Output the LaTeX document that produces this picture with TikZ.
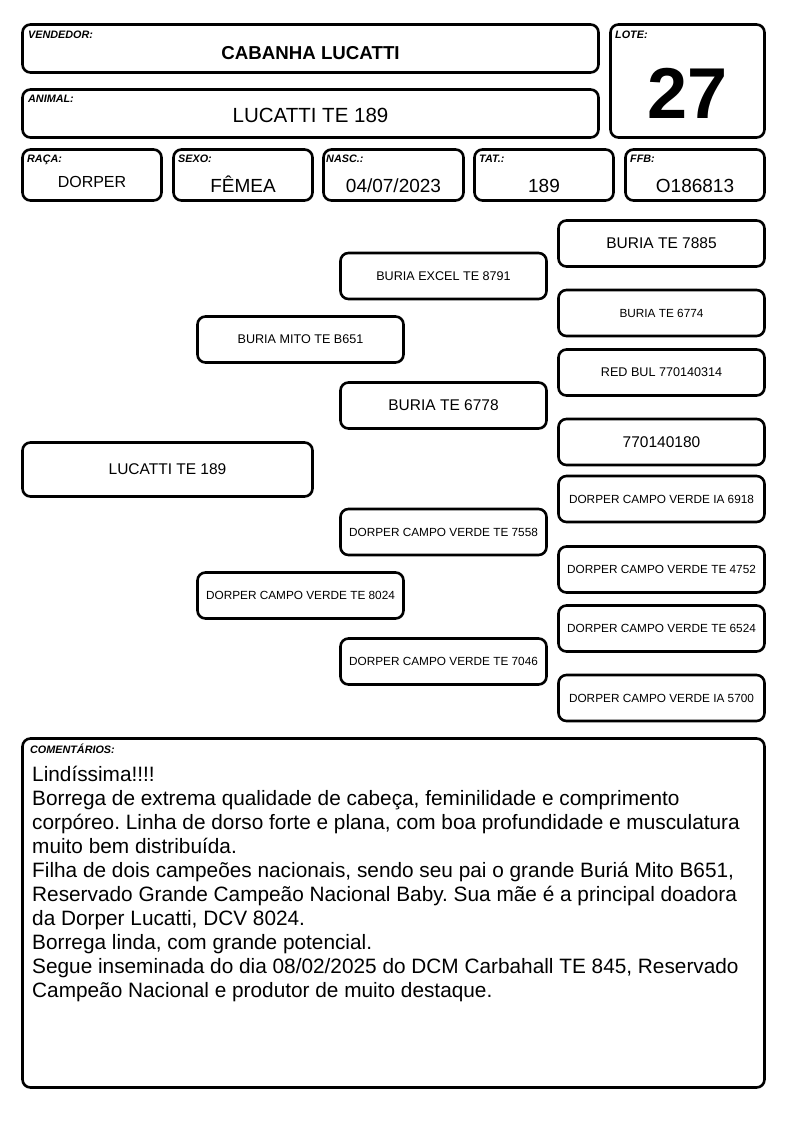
\documentclass[tikz,border=0pt]{standalone}
\usepackage{fontspec}
\setmainfont{Liberation Sans}
\frenchspacing
\begin{document}
\begin{tikzpicture}[x=1pt,y=-1pt,
  frame/.style={draw=black, line width=2.6pt, rounded corners=8pt, inner sep=0pt, fill=white},
  pbox/.style={frame, minimum width=206pt, minimum height=46pt, align=center},
  lbl/.style={anchor=base west, inner sep=0pt, font=\fontsize{10.8}{12}\selectfont\bfseries\itshape},
  val/.style={anchor=base, inner sep=0pt, font=\fontsize{19}{22}\selectfont},
  big/.style={font=\fontsize{15.5}{18}\selectfont},
  med/.style={font=\fontsize{12.6}{15}\selectfont},
  sml/.style={font=\fontsize{11.8}{14}\selectfont}
]
\useasboundingbox[fill=white] (0,0) rectangle (794,1123);

% header
\node[frame, minimum width=576pt, minimum height=48pt] (vend) at (310.5,48.5) {};
\node[frame, minimum width=576pt, minimum height=48pt] (anim) at (310.5,113.5) {};
\node[frame, minimum width=154pt, minimum height=113pt] (lote) at (687.5,81) {};
\node[frame, minimum width=139pt, minimum height=51pt] (raca) at (92,175) {};
\node[frame, minimum width=139pt, minimum height=51pt] (sexo) at (243,175) {};
\node[frame, minimum width=140pt, minimum height=51pt] (nasc) at (393.5,175) {};
\node[frame, minimum width=139pt, minimum height=51pt] (tat) at (544,175) {};
\node[frame, minimum width=139pt, minimum height=51pt] (ffb) at (695,175) {};

\node[lbl] (lvend) at (28,39) {VENDEDOR:};
\node[lbl] (lanim) at (28,103) {ANIMAL:};
\node[lbl] (llote) at (615,39) {LOTE:};
\node[lbl] (lraca) at (27,163) {RAÇA:};
\node[lbl] (lsexo) at (178,163) {SEXO:};
\node[lbl] (lnasc) at (326,163) {NASC.:};
\node[lbl] (ltat) at (479,163) {TAT.:};
\node[lbl] (lffb) at (630,163) {FFB:};

\node[val, font=\fontsize{18.7}{22}\selectfont\bfseries] (tvend) at (310.5,60) {CABANHA LUCATTI};
\node[val, font=\fontsize{20.5}{24}\selectfont] (tanim) at (310.5,123) {LUCATTI TE 189};
\node[val, font=\fontsize{72}{80}\selectfont\bfseries] (tlote) at (687.5,119) {27};
\node[val, font=\fontsize{16}{19}\selectfont] (traca) at (92,188) {DORPER};
\node[val] (tsexo) at (243,193) {FÊMEA};
\node[val] (tnasc) at (393.5,193) {04/07/2023};
\node[val] (ttat) at (544,193) {189};
\node[val] (tffb) at (695,193) {O186813};

% pedigree
\node[frame, minimum width=290pt, minimum height=54pt, big] (p0) at (167.5,469.5) {LUCATTI TE 189};
\node[pbox, med] (p1) at (300.5,339.5) {BURIA MITO TE B651};
\node[pbox, sml] (p2) at (300.5,595.5) {DORPER CAMPO VERDE TE 8024};
\node[pbox, med] (p11) at (443.5,276) {BURIA EXCEL TE 8791};
\node[pbox, big] (p12) at (443.5,405.5) {BURIA TE 6778};
\node[pbox, sml] (p21) at (443.5,532) {DORPER CAMPO VERDE TE 7558};
\node[pbox, sml] (p22) at (443.5,661.5) {DORPER CAMPO VERDE TE 7046};
\node[pbox, big] (p111) at (661.5,243.5) {BURIA TE 7885};
\node[pbox, sml] (p112) at (661.5,313) {BURIA TE 6774};
\node[pbox, med] (p121) at (661.5,372.5) {RED BUL 770140314};
\node[pbox, big] (p122) at (661.5,442) {770140180};
\node[pbox, sml] (p211) at (661.5,499) {DORPER CAMPO VERDE IA 6918};
\node[pbox, sml] (p212) at (661.5,569.5) {DORPER CAMPO VERDE TE 4752};
\node[pbox, sml] (p221) at (661.5,628.5) {DORPER CAMPO VERDE TE 6524};
\node[pbox, sml] (p222) at (661.5,698) {DORPER CAMPO VERDE IA 5700};

% comments
\node[frame, minimum width=742pt, minimum height=349pt] (com) at (393.5,913) {};
\node[lbl] (lcom) at (30,753) {COMENTÁRIOS:};
\node[anchor=base west, inner sep=0pt, align=left, font=\fontsize{20.8}{23.9}\selectfont] (tcom) at (32,997) {Lindíssima!!!!\\
Borrega de extrema qualidade de cabeça, feminilidade e comprimento\\
corpóreo. Linha de dorso forte e plana, com boa profundidade e musculatura\\
muito bem distribuída.\\
Filha de dois campeões nacionais, sendo seu pai o grande Buriá Mito B651,\\
Reservado Grande Campeão Nacional Baby. Sua mãe é a principal doadora\\
da Dorper Lucatti, DCV 8024.\\
Borrega linda, com grande potencial.\\
Segue inseminada do dia 08/02/2025 do DCM Carbahall TE 845, Reservado\\
Campeão Nacional e produtor de muito destaque.};
\end{tikzpicture}
\end{document}
